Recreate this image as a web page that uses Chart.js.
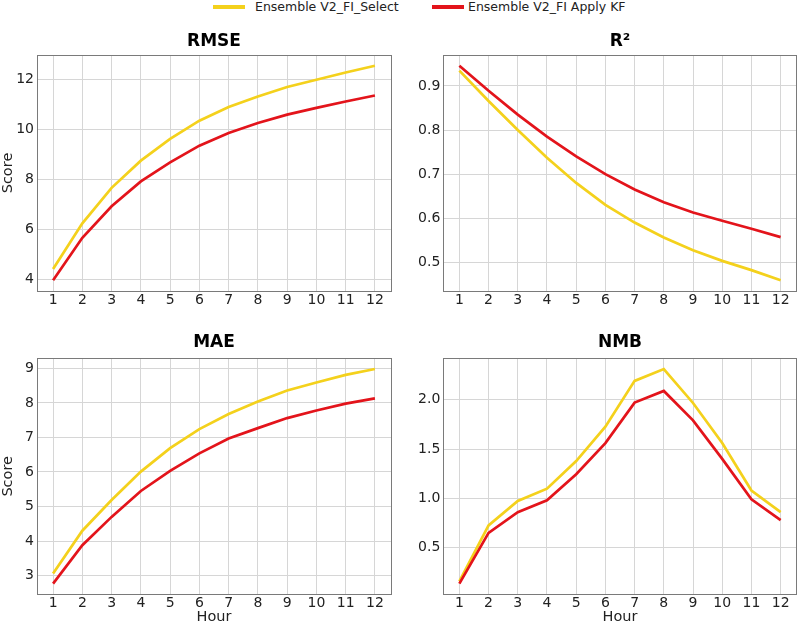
<!DOCTYPE html>
<html>
<head>
<meta charset="utf-8">
<script src="https://cdn.jsdelivr.net/npm/chart.js@4.4.1/dist/chart.umd.min.js"></script>
<style>
    body { margin: 0; background: #fff; width: 800px; height: 626px; position: relative; overflow: hidden; font-family: 'DejaVu Sans', sans-serif; }
    canvas { position: absolute; }
    .swatch { position: absolute; top: 5px; width: 32px; height: 4px; }
    .label { position: absolute; top: 0; line-height: 14px; font-size: 12.5px; color: #222; white-space: nowrap; }
</style>
</head>
<body>
<div class="swatch" style="left:213px;background:#f4d11c"></div>
<span class="label" style="left:255px">Ensemble V2_FI_Select</span>
<div class="swatch" style="left:432px;background:#e3141b"></div>
<span class="label" style="left:468px">Ensemble V2_FI Apply KF</span>

<canvas id="rmseChart" width="400" height="292" style="left:0;top:26px"></canvas>
<canvas id="r2Chart" width="400" height="292" style="left:400px;top:26px"></canvas>
<canvas id="maeChart" width="400" height="306" style="left:0;top:320px"></canvas>
<canvas id="nmbChart" width="400" height="306" style="left:400px;top:320px"></canvas>

<script>
// Data
const hours = [1, 2, 3, 4, 5, 6, 7, 8, 9, 10, 11, 12];

const rmseSelect = [4.42, 6.25, 7.67, 8.76, 9.63, 10.36, 10.91, 11.33, 11.71, 12.0, 12.29, 12.56];
const rmseKF = [3.97, 5.67, 6.93, 7.93, 8.69, 9.36, 9.87, 10.27, 10.6, 10.87, 11.13, 11.37];

const r2Select = [0.935, 0.866, 0.800, 0.737, 0.680, 0.630, 0.590, 0.556, 0.527, 0.503, 0.482, 0.459];
const r2KF = [0.946, 0.889, 0.835, 0.785, 0.740, 0.700, 0.665, 0.636, 0.613, 0.594, 0.576, 0.557];

const maeSelect = [3.06, 4.30, 5.19, 6.01, 6.69, 7.24, 7.68, 8.04, 8.36, 8.59, 8.81, 8.98];
const maeKF = [2.77, 3.88, 4.70, 5.45, 6.03, 6.54, 6.97, 7.27, 7.56, 7.78, 7.98, 8.13];

const nmbSelect = [0.16, 0.726, 0.973, 1.098, 1.378, 1.726, 2.19, 2.31, 1.966, 1.56, 1.08, 0.86];
const nmbKF = [0.137, 0.65, 0.86, 0.98, 1.245, 1.56, 1.97, 2.088, 1.79, 1.40, 0.99, 0.78];

const rmseTicks = [4, 6, 8, 10, 12];
const r2Ticks = [0.5, 0.6, 0.7, 0.8, 0.9];
const maeTicks = [3, 4, 5, 6, 7, 8, 9];
const nmbTicks = [0.5, 1.0, 1.5, 2.0];

const FONT = "'DejaVu Sans', sans-serif";
const SELECT_COLOR = '#f4d11c';
const KF_COLOR = '#e3141b';

// axes frame like matplotlib spines
const framePlugin = {
    id: 'frame',
    afterDatasetsDraw(chart) {
        const a = chart.chartArea;
        const ctx = chart.ctx;
        ctx.save();
        ctx.strokeStyle = '#7a7a7a';
        ctx.lineWidth = 1;
        ctx.strokeRect(Math.round(a.left) + 0.5, Math.round(a.top) + 0.5,
            Math.round(a.right - a.left), Math.round(a.bottom - a.top));
        ctx.restore();
    }
};

function pad(values, frac) {
    const lo = Math.min(...values), hi = Math.max(...values);
    const m = (hi - lo) * frac;
    return [lo - m, hi + m];
}

function makeChart(id, title, sel, kf, yTicks, cfg) {
    const [ymin, ymax] = pad(sel.concat(kf), 0.05);
    return new Chart(document.getElementById(id), {
        type: 'line',
        data: {
            datasets: [
                {
                    label: 'Ensemble V2_FI_Select',
                    data: hours.map((h, i) => ({ x: h, y: sel[i] })),
                    borderColor: SELECT_COLOR,
                    borderWidth: 2.7,
                    pointRadius: 0,
                    tension: 0,
                    order: 1
                },
                {
                    label: 'Ensemble V2_FI Apply KF',
                    data: hours.map((h, i) => ({ x: h, y: kf[i] })),
                    borderColor: KF_COLOR,
                    borderWidth: 2.7,
                    pointRadius: 0,
                    tension: 0,
                    order: 0
                }
            ]
        },
        options: {
            responsive: false,
            animation: false,
            layout: { padding: { left: 0, right: cfg.padRight, top: 0, bottom: 0 } },
            plugins: {
                legend: { display: false },
                tooltip: { enabled: false },
                title: {
                    display: true,
                    text: title,
                    fullSize: false,
                    color: '#000',
                    font: { family: FONT, size: 17, weight: 'bold' },
                    padding: { top: cfg.titleTop, bottom: cfg.titleBottom }
                }
            },
            scales: {
                x: {
                    type: 'linear',
                    min: 0.45,
                    max: 12.55,
                    afterBuildTicks: s => { s.ticks = hours.map(v => ({ value: v })); },
                    afterFit: s => { s.height = cfg.xHeight; },
                    grid: { color: '#d6d6d6', drawTicks: false },
                    border: { display: false },
                    ticks: { color: '#222', font: { family: FONT, size: 14 }, padding: 1, maxRotation: 0, autoSkip: false },
                    title: {
                        display: cfg.xTitle,
                        text: 'Hour',
                        color: '#222',
                        font: { family: FONT, size: 14.5 },
                        padding: { top: 0, bottom: 0 }
                    }
                },
                y: {
                    min: ymin,
                    max: ymax,
                    afterBuildTicks: s => { s.ticks = yTicks.map(v => ({ value: v })); },
                    afterFit: s => { s.width = cfg.yWidth; },
                    grid: { color: '#d6d6d6', drawTicks: false },
                    border: { display: false },
                    ticks: {
                        color: '#222',
                        font: { family: FONT, size: 14 },
                        padding: 3,
                        callback: v => cfg.decimals ? v.toFixed(cfg.decimals) : String(v)
                    },
                    title: {
                        display: cfg.yTitle,
                        text: 'Score',
                        color: '#222',
                        font: { family: FONT, size: 14.5 },
                        padding: { top: 0, bottom: 0 }
                    }
                }
            }
        },
        plugins: [framePlugin]
    });
}

makeChart('rmseChart', 'RMSE', rmseSelect, rmseKF, rmseTicks,
    { padRight: 9, titleTop: 5.8, titleBottom: 2.8, xHeight: 27, yWidth: 37, xTitle: false, yTitle: true, decimals: 0 });
makeChart('r2Chart', 'R²', r2Select, r2KF, r2Ticks,
    { padRight: 3.3, titleTop: 5.8, titleBottom: 2.8, xHeight: 27, yWidth: 43.3, xTitle: false, yTitle: false, decimals: 1 });
makeChart('maeChart', 'MAE', maeSelect, maeKF, maeTicks,
    { padRight: 9, titleTop: 12.8, titleBottom: 5.1, xHeight: 31.7, yWidth: 37, xTitle: true, yTitle: true, decimals: 0 });
makeChart('nmbChart', 'NMB', nmbSelect, nmbKF, nmbTicks,
    { padRight: 3.3, titleTop: 12.8, titleBottom: 5.1, xHeight: 31.7, yWidth: 43.3, xTitle: true, yTitle: false, decimals: 1 });
</script>
</body>
</html>
